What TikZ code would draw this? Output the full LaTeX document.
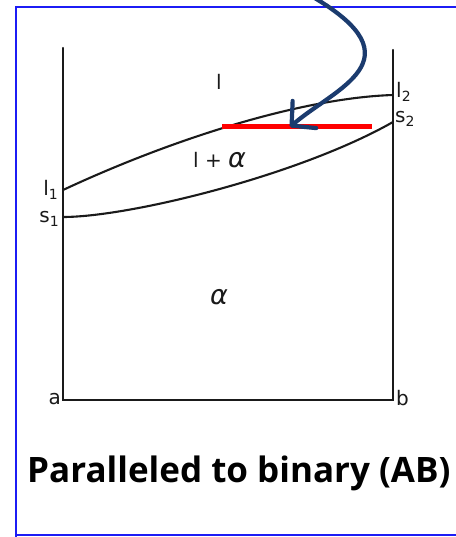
\documentclass[tikz,border=0pt]{standalone}
\usepackage{fontspec}
\setmainfont{Open Sans}
\newfontfamily\labfont{DejaVu Sans}
\usetikzlibrary{arrows.meta}
\definecolor{ink}{HTML}{1A1A1A}
\definecolor{frameblue}{HTML}{1C1CF5}
\definecolor{navy}{HTML}{1B3B6E}
\definecolor{hot}{HTML}{FF0000}
\newcommand{\sub}[1]{\raisebox{-4pt}{\fontsize{14}{14}\selectfont #1}}
\newcommand{\alf}{{\fontsize{27}{27}\selectfont\itshape α}}
\tikzset{
  axis/.style={line width=2.3pt, color=ink, line cap=round},
  phase/.style={line width=2.1pt, color=ink},
  lbl/.style={font=\labfont\fontsize{20}{20}\selectfont, text=ink, inner sep=0pt},
  region/.style={font=\labfont\fontsize{20}{20}\selectfont, text=ink, inner sep=0pt},
  tie/.style={line width=5pt, color=hot},
  hint/.style={-{Straight Barb[round,length=17pt,width=36pt]}, line width=4.2pt, color=navy},
  caption/.style={font=\fontsize{35}{35}\selectfont\bfseries, text=black, inner sep=0pt},
}
\begin{document}
\begin{tikzpicture}[x=1pt,y=-1pt]
  \useasboundingbox (0,0) rectangle (455,537);
  \fill[white] (0,0) rectangle (455,537);
  \draw[frameblue,line width=2pt] (16,540) -- (16,7) -- (470,7) (16,535) -- (470,535);
  % box of the section
  \coordinate (aTop) at (63,48);
  \coordinate (bTop) at (393,50);
  \coordinate (a) at (63,400);
  \coordinate (b) at (393,400);
  \draw[axis] (aTop) -- (a) -- (b) -- (bTop);
  % liquidus and solidus
  \coordinate (l1) at (63,190);
  \coordinate (l2) at (393,95);
  \coordinate (s1) at (63,217);
  \coordinate (s2) at (393,122);
  \draw[phase] (l1) .. controls (170,140) and (300,98) .. (l2);
  \draw[phase] (s1) .. controls (130,217) and (300,175) .. (s2);
  \node[lbl,anchor=east] (l1lab) at (58,190) {l\sub{1}};
  \node[lbl,anchor=east] (s1lab) at (59,219) {s\sub{1}};
  \node[lbl,anchor=west] (l2lab) at (396,92) {l\sub{2}};
  \node[lbl,anchor=west] (s2lab) at (395,119) {s\sub{2}};
  \node[lbl,anchor=east] (alab) at (61,399) {a};
  \node[lbl,anchor=west] (blab) at (396,398) {b};
  \node[region] (liq) at (219,82) {l};
  \node[region,anchor=base west] (mush) at (193,168) {l + \alf};
  \node[region] (sol) at (219,297) {\alf};
  % tie line and pointer
  \coordinate (tieL) at (222,127);
  \coordinate (tieR) at (372,127);
  \coordinate (tip) at (290,127);
  \coordinate (tail) at (313,-3);
  \draw[tie] (tieL) -- (tieR);
  \draw[hint] (tail) .. controls (420,60) and (335,88) .. (tip);
  \node[caption,anchor=base west] (title) at (27,482) {Paralleled to binary (AB)};
\end{tikzpicture}
\end{document}
